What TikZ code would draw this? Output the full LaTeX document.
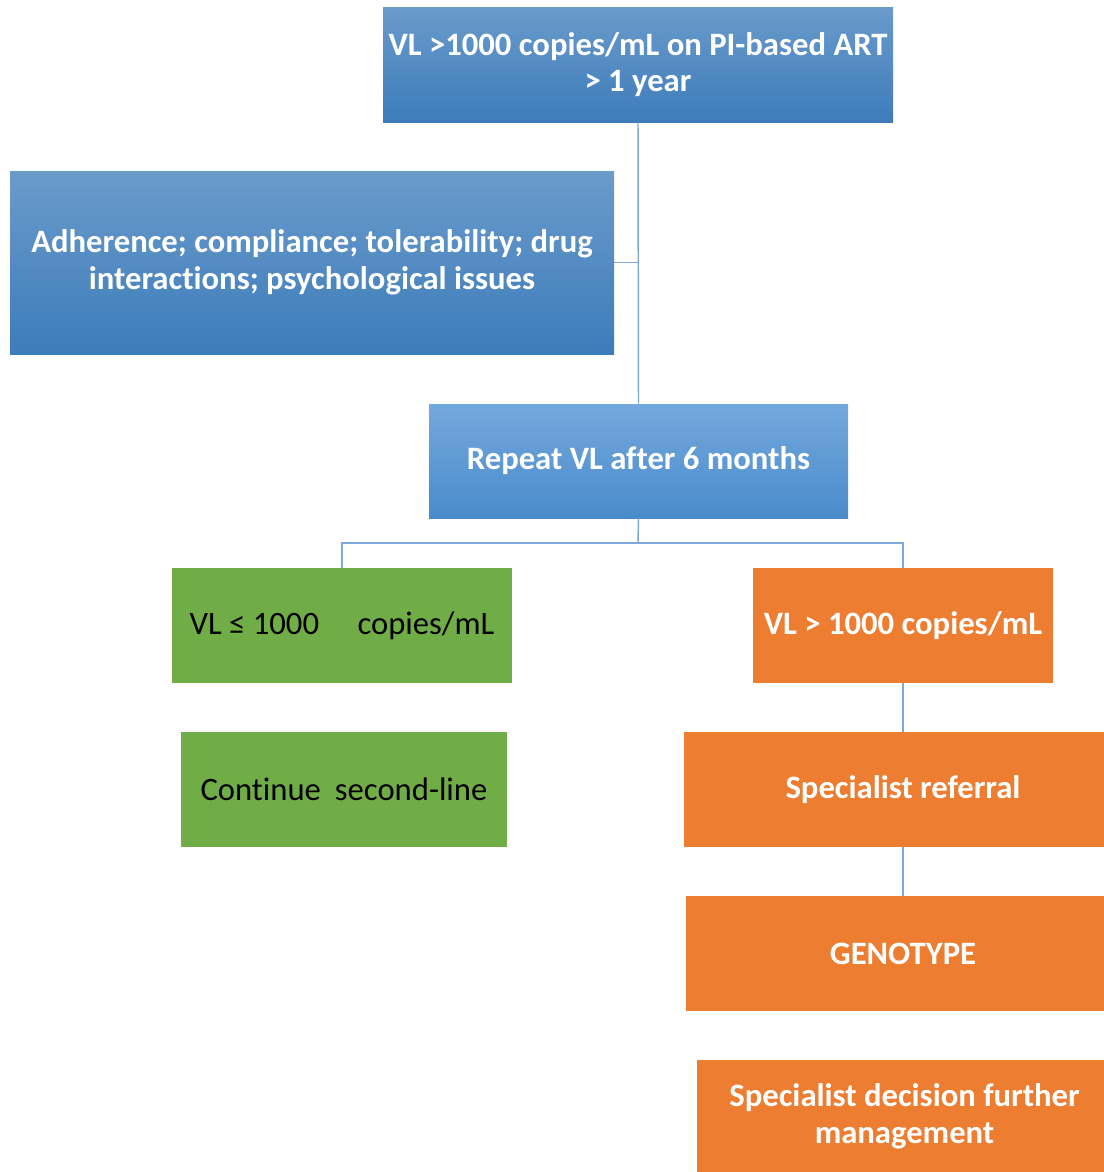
\documentclass[tikz,border=0pt]{standalone}
\usepackage{fontspec}
\setmainfont{Carlito}[Ligatures=NoCommon]
\definecolor{bluetop}{HTML}{6A9BCB}
\definecolor{bluebot}{HTML}{3D7CBA}
\definecolor{lighttop}{HTML}{74A9DD}
\definecolor{lightbot}{HTML}{4A8BCB}
\definecolor{leafgreen}{HTML}{70AD47}
\definecolor{boxorange}{HTML}{ED7D31}
\definecolor{linkblue}{HTML}{7FA8D8}
\tikzset{
	box/.style={rectangle, inner sep=0pt, align=center, font=\fontsize{24.5}{27.5}\selectfont\bfseries, text=white},
	bluebox/.style={box, top color=bluetop, bottom color=bluebot},
	lightbox/.style={box, top color=lighttop, bottom color=lightbot},
	greenbox/.style={box, fill=leafgreen, text=black, font=\fontsize{24.5}{27.5}\selectfont},
	orangebox/.style={box, fill=boxorange},
	link/.style={draw=linkblue, line width=1.1pt}
}
\begin{document}
\begin{tikzpicture}[x=0.75pt,y=-0.75pt]
	\useasboundingbox (0,0) rectangle (1104,1172);
	\node[bluebox, minimum width=510*0.75pt, minimum height=115*0.75pt] (start) at (638,64.5) {VL >1000 copies/mL on PI-based ART\\> 1 year};
	\node[bluebox, minimum width=604*0.75pt, minimum height=183*0.75pt] (check) at (312,262.5) {Adherence; compliance; tolerability; drug\\interactions; psychological issues};
	\node[lightbox, minimum width=419*0.75pt, minimum height=114*0.75pt] (repeat) at (638.5,461) {Repeat VL after 6 months};
	\node[greenbox, minimum width=340*0.75pt, minimum height=115*0.75pt] (low) at (342,625.5) {VL ≤ 1000 \hspace{0.95em}copies/mL};
	\node[orangebox, minimum width=300*0.75pt, minimum height=115*0.75pt] (high) at (903,625.5) {VL > 1000 copies/mL};
	\node[greenbox, minimum width=326*0.75pt, minimum height=115*0.75pt] (cont) at (344,789.5) {Continue \hspace{0.2em}second-line};
	% right-hand boxes run past the page edge
	\node[orangebox, minimum width=438*0.75pt, minimum height=115*0.75pt] (refer) at (903,789.5) {Specialist referral};
	\node[orangebox, minimum width=434*0.75pt, minimum height=115*0.75pt] (geno) at (903,953.5) {GENOTYPE};
	\node[orangebox, minimum width=415*0.75pt, minimum height=112*0.75pt] (decide) at (904.5,1116) {Specialist decision further\\management};
	\coordinate (side) at (638,262.5);
	\coordinate (fork) at (638,543);
	\draw[link] (start.south) -- (repeat.north);
	\draw[link] (check.east) -- (side);
	\draw[link] (repeat.south) -- (fork);
	\draw[link] (fork) -| (low.north);
	\draw[link] (fork) -| (high.north);
	\draw[link] (high.south) -- (refer.north);
	\draw[link] (refer.south) -- (geno.north);
\end{tikzpicture}
\end{document}
